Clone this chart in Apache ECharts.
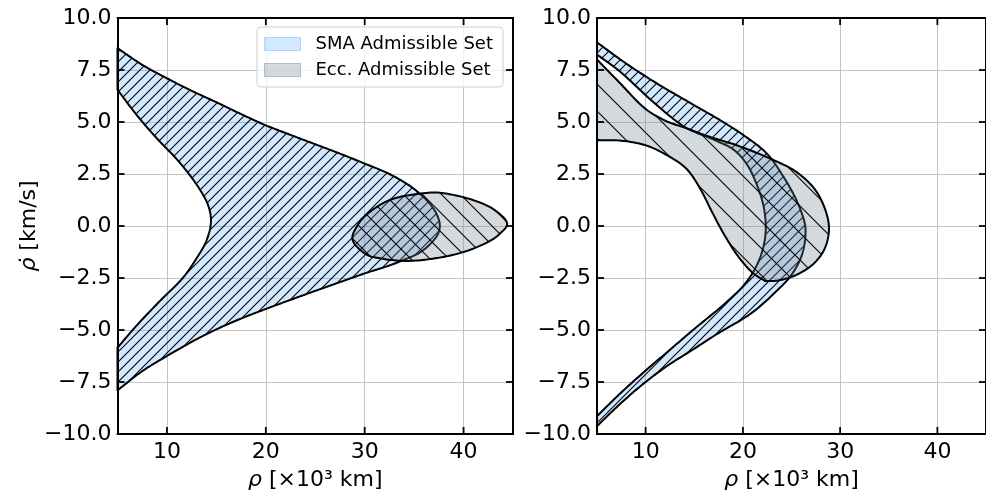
<!DOCTYPE html>
<html><head><meta charset="utf-8">
<script src="https://cdn.jsdelivr.net/npm/echarts@6/dist/echarts.min.js"></script>
<style>html,body{margin:0;padding:0;background:#fff}#c{width:986px;height:496px}</style>
</head><body><div id="c"></div>
<script>
// ---------- data ----------
// Left panel: SMA admissible set, outer boundary (top-left -> vertex -> bottom-left)
const smaLeftOuterX = [5, 7.5, 10, 12.5, 15, 17.5, 20, 22.5, 25, 27.5, 30, 32.5, 34.5, 35.7, 36.7, 37.3, 37.6, 37.4, 36.6, 35.5, 34, 32.5, 30, 27.5, 25, 22.5, 20, 17.5, 15, 12.5, 10, 7.5, 5];
const smaLeftOuterY = [8.55, 7.75, 7.1, 6.5, 5.95, 5.38, 4.84, 4.38, 3.93, 3.48, 3.0, 2.5, 1.95, 1.5, 1.0, 0.55, 0.05, -0.4, -0.88, -1.3, -1.62, -1.9, -2.28, -2.7, -3.12, -3.55, -3.99, -4.45, -4.97, -5.57, -6.25, -6.98, -7.9];
// Left panel: SMA admissible set, inner boundary (bottom-left -> vertex -> top-left)
const smaLeftInnerX = [5, 7, 9.3, 11.6, 13.0, 14.0, 14.45, 14.2, 13.2, 11.2, 9, 7, 5];
const smaLeftInnerY = [-5.85, -4.75, -3.6, -2.5, -1.55, -0.7, 0.2, 0.95, 1.85, 3.1, 4.2, 5.3, 6.55];
// Left panel: eccentricity admissible set (closed curve)
const eccLeftX = [44.41, 43.6, 42.63, 40.27, 37.58, 34.21, 31.5, 30.17, 28.76, 29.3, 30.17, 32.53, 35.89, 37.58, 40.94, 43.2];
const eccLeftY = [0.1, -0.4, -0.73, -1.21, -1.52, -1.68, -1.55, -1.37, -0.65, 0.05, 0.54, 1.25, 1.57, 1.6, 1.25, 0.75];

// Right panel: SMA admissible set, outer boundary (top -> vertex -> bottom)
const smaRightOuterX = [5, 7.66, 11.03, 14.39, 17.76, 20.12, 22.47, 24.2, 25.5, 26.3, 26.45, 26.1, 25.0, 23.3, 20.79, 17.42, 14.73, 12.3, 10.0, 7.5, 5];
const smaRightOuterY = [8.83, 7.92, 6.89, 5.97, 5.06, 4.35, 3.48, 2.35, 1.25, 0.25, -0.3, -1.35, -2.35, -3.2, -4.22, -5.17, -5.98, -6.7, -7.5, -8.5, -9.62];
// Right panel: SMA admissible set, inner boundary (bottom -> vertex -> top)
const smaRightInnerX = [5, 7.5, 10, 12.5, 15, 18.1, 20.0, 21.2, 22.0, 22.35, 22.15, 21.5, 20.5, 19.1, 17.0, 14.06, 10.69, 7.32, 5];
const smaRightInnerY = [-9.14, -8.0, -6.95, -5.95, -4.95, -3.75, -2.9, -2.1, -1.2, -0.2, 0.9, 1.9, 2.9, 3.65, 4.15, 4.75, 6.0, 7.44, 8.24];
// Right panel: eccentricity admissible set, outer boundary (top-left -> bottom tip)
const eccRightOuterX = [5, 7.32, 10.02, 12.04, 14.06, 16.5, 19.44, 22.81, 25.5, 27.5, 28.6, 28.85, 28.4, 27.3, 25.5, 23.6, 22.3];
const eccRightOuterY = [8.0, 6.89, 5.62, 5.06, 4.72, 4.3, 3.87, 3.24, 2.6, 1.7, 0.6, -0.2, -1.1, -1.8, -2.35, -2.62, -2.65];
// Right panel: eccentricity admissible set, inner boundary (bottom tip -> left)
const eccRightInnerX = [22.3, 21.0, 19.5, 18.0, 16.8, 15.6, 14.2, 12.4, 10.0, 7.3, 5];
const eccRightInnerY = [-2.65, -2.25, -1.45, -0.35, 0.7, 1.8, 2.75, 3.35, 3.88, 4.11, 4.12];

const seriesNames = ['SMA Admissible Set', 'Ecc. Admissible Set'];
const xAxisTitle = '{i|\u03C1} [\u00D710\u00B3 km]';
const yAxisTitle = '{i|\u03C1\u0307} [km/s]';
const xRange = [5, 45];
const yRange = [-10, 10];
const yTickStep = 2.5;
const xTickValues = [10, 20, 30, 40];
const yTickValues = [-7.5, -5, -2.5, 0, 2.5, 5, 7.5];

// ---------- styling ----------
const FONT = 'DejaVu Sans';
const BLUE = 'rgba(30,144,255,0.2)';
const GRAY = 'rgba(112,128,144,0.3)';

function hatchCanvas(s, dir) {
  const c = document.createElement('canvas');
  c.width = s; c.height = s;
  const g = c.getContext('2d');
  g.strokeStyle = '#000'; g.lineWidth = 1.1;
  for (let k = -1; k <= 1; k++) {
    g.beginPath();
    if (dir === '/') { g.moveTo(k * s - 1, s + 1); g.lineTo(k * s + s + 1, -1); }
    else { g.moveTo(k * s - 1, -1); g.lineTo(k * s + s + 1, s + 1); }
    g.stroke();
  }
  return c;
}
const hatchSMA = hatchCanvas(10, '/');
const hatchECCLeft = hatchCanvas(19, '\\');
const hatchECCRight = hatchCanvas(27, '\\');

function crSpline(pts, closed, n) {
  const N = pts.length;
  let P;
  if (closed) P = [pts[N - 1]].concat(pts, [pts[0], pts[1]]);
  else {
    const a = [2 * pts[0][0] - pts[1][0], 2 * pts[0][1] - pts[1][1]];
    const b = [2 * pts[N - 1][0] - pts[N - 2][0], 2 * pts[N - 1][1] - pts[N - 2][1]];
    P = [a].concat(pts, [b]);
  }
  const out = [];
  const segs = closed ? N : N - 1;
  const d = (p, q) => Math.max(Math.pow(Math.hypot(q[0] - p[0], q[1] - p[1]), 0.5), 1e-4);
  for (let i = 0; i < segs; i++) {
    const p0 = P[i], p1 = P[i + 1], p2 = P[i + 2], p3 = P[i + 3];
    const t0 = 0, t1 = t0 + d(p0, p1), t2 = t1 + d(p1, p2), t3 = t2 + d(p2, p3);
    for (let j = 0; j < n; j++) {
      const t = t1 + (t2 - t1) * j / n;
      const L = (pa, pb, ta, tb) => [(tb - t) / (tb - ta) * pa[0] + (t - ta) / (tb - ta) * pb[0], (tb - t) / (tb - ta) * pa[1] + (t - ta) / (tb - ta) * pb[1]];
      const A1 = L(p0, p1, t0, t1), A2 = L(p1, p2, t1, t2), A3 = L(p2, p3, t2, t3);
      const B1 = L(A1, A2, t0, t2), B2 = L(A2, A3, t1, t3);
      out.push(L(B1, B2, t1, t2));
    }
  }
  if (!closed) out.push(pts[N - 1]);
  return out;
}

function makeRender(curves, closed, fill, pattern) {
  return function (params, api) {
    let pts = [];
    curves.forEach(function (cv) {
      const px = cv[0].map((x, i) => api.coord([x, cv[1][i]]));
      pts = pts.concat(crSpline(px, closed, 14));
    });
    return {
      type: 'group', children: [
        { type: 'polygon', shape: { points: pts }, style: { fill: fill, stroke: 'none' } },
        { type: 'polygon', shape: { points: pts }, style: { fill: { image: pattern, repeat: 'repeat' }, stroke: 'none' } },
        { type: 'polygon', shape: { points: pts }, style: { fill: 'none', stroke: '#000', lineWidth: 2, lineJoin: 'round' } }
      ]
    };
  };
}

// inward tick marks on all four sides, placed through the axis scales
function tickRender(params, api) {
  const len = 7, w = 1.8, kids = [];
  const box = (x, y, wd, ht) => kids.push({ type: 'rect', shape: { x: x, y: y, width: wd, height: ht }, style: { fill: '#000', stroke: 'none' } });
  xTickValues.forEach(function (v) {
    const b = api.coord([v, yRange[0]]), t = api.coord([v, yRange[1]]);
    box(b[0] - w / 2, b[1] - len, w, len);
    box(t[0] - w / 2, t[1], w, len);
  });
  yTickValues.forEach(function (v) {
    const l = api.coord([xRange[0], v]), r = api.coord([xRange[1], v]);
    box(l[0], l[1] - w / 2, len, w);
    box(r[0] - len, r[1] - w / 2, len, w);
  });
  return { type: 'group', children: kids };
}

const lineStyle = () => ({ show: true, onZero: false, lineStyle: { color: '#000', width: 2 } });
const labelStyle = { color: '#000', fontSize: 22, fontFamily: FONT };
const nameStyle = { color: '#000', fontSize: 22, fontFamily: FONT, rich: { i: { fontStyle: 'italic', fontSize: 22, fontFamily: FONT, color: '#000' } } };

function xAxesFor(grid) {
  return [{
    gridIndex: grid, type: 'value', min: xRange[0], max: xRange[1], splitNumber: 4, position: 'bottom', z: 5,
    axisLine: lineStyle(), axisTick: { show: false },
    axisLabel: Object.assign({ margin: 7, showMinLabel: false, showMaxLabel: false }, labelStyle),
    splitLine: { show: false },
    name: xAxisTitle, nameLocation: 'middle', nameGap: 35, nameTextStyle: nameStyle
  }, {
    gridIndex: grid, type: 'value', min: xRange[0], max: xRange[1], splitNumber: 4, position: 'top', z: 5,
    axisLine: lineStyle(), axisTick: { show: false }, axisLabel: { show: false }, splitLine: { show: false }
  }];
}
function yAxesFor(grid, withName) {
  const a = {
    gridIndex: grid, type: 'value', min: yRange[0], max: yRange[1], interval: yTickStep, position: 'left', z: 5,
    axisLine: lineStyle(), axisTick: { show: false },
    axisLabel: Object.assign({ margin: 6, formatter: v => (v < 0 ? '\u2212' : '') + Math.abs(v).toFixed(1) }, labelStyle),
    splitLine: { show: false }
  };
  if (withName) {
    a.name = yAxisTitle; a.nameLocation = 'middle'; a.nameGap = 60; a.nameRotate = 90; a.nameTextStyle = nameStyle;
  }
  return [a, {
    gridIndex: grid, type: 'value', min: yRange[0], max: yRange[1], interval: yTickStep, position: 'right', z: 5,
    axisLine: lineStyle(), axisTick: { show: false }, axisLabel: { show: false }, splitLine: { show: false }
  }];
}
function xGridAxis(grid) {
  return { gridIndex: grid, type: 'value', min: xRange[0], max: xRange[1], splitNumber: 4, z: 0,
    axisLine: { show: false }, axisTick: { show: false }, axisLabel: { show: false },
    splitLine: { show: true, lineStyle: { color: '#c4c4c4', width: 1 } } };
}
function yGridAxis(grid) {
  return { gridIndex: grid, type: 'value', min: yRange[0], max: yRange[1], interval: yTickStep, z: 0,
    axisLine: { show: false }, axisTick: { show: false }, axisLabel: { show: false },
    splitLine: { show: true, lineStyle: { color: '#c4c4c4', width: 1 } } };
}

function shapeSeries(name, xi, yi, curves, closed, fill, pattern) {
  return {
    type: 'custom', name: name, xAxisIndex: xi, yAxisIndex: yi, coordinateSystem: 'cartesian2d', z: 2,
    data: [[curves[0][0][0], curves[0][1][0]]], silent: true, animation: false,
    itemStyle: { color: fill }, renderItem: makeRender(curves, closed, fill, pattern)
  };
}
function tickSeries(xi, yi) {
  return { type: 'custom', name: 'ticks' + xi, xAxisIndex: xi, yAxisIndex: yi, coordinateSystem: 'cartesian2d', z: 6,
    data: [[15, 0]], silent: true, animation: false, renderItem: tickRender };
}

const chart = echarts.init(document.getElementById('c'), null, { renderer: 'canvas' });
chart.setOption({
  backgroundColor: '#fff',
  animation: false,
  grid: [
    { left: 117.5, top: 18, width: 395.5, height: 420 },
    { left: 597, top: 18, width: 396, height: 420 }
  ],
  xAxis: xAxesFor(0).concat(xAxesFor(1), [xGridAxis(0), xGridAxis(1)]),
  yAxis: yAxesFor(0, true).concat(yAxesFor(1, false), [yGridAxis(0), yGridAxis(1)]),
  legend: {
    orient: 'vertical', left: 257, top: 27, selectedMode: false, z: 10,
    data: [
      { name: seriesNames[0], icon: 'rect', itemStyle: { color: BLUE, borderColor: 'rgba(30,144,255,0.3)', borderWidth: 1 } },
      { name: seriesNames[1], icon: 'rect', itemStyle: { color: GRAY, borderColor: 'rgba(112,128,144,0.45)', borderWidth: 1 } }
    ],
    itemWidth: 36, itemHeight: 13, itemGap: 8,
    textStyle: { fontSize: 18, fontFamily: FONT, color: '#000', padding: [0, 0, 0, 10] },
    backgroundColor: 'rgba(255,255,255,0.8)', borderColor: '#d0d0d0', borderWidth: 1, borderRadius: 4,
    padding: [8, 10, 8, 7]
  },
  series: [
    shapeSeries(seriesNames[0], 0, 0, [[smaLeftOuterX, smaLeftOuterY], [smaLeftInnerX, smaLeftInnerY]], false, BLUE, hatchSMA),
    shapeSeries(seriesNames[1], 0, 0, [[eccLeftX, eccLeftY]], true, GRAY, hatchECCLeft),
    shapeSeries(seriesNames[0], 2, 2, [[smaRightOuterX, smaRightOuterY], [smaRightInnerX, smaRightInnerY]], false, BLUE, hatchSMA),
    shapeSeries(seriesNames[1], 2, 2, [[eccRightOuterX, eccRightOuterY], [eccRightInnerX, eccRightInnerY]], false, GRAY, hatchECCRight),
    tickSeries(0, 0),
    tickSeries(2, 2)
  ]
});
</script>
</body></html>
